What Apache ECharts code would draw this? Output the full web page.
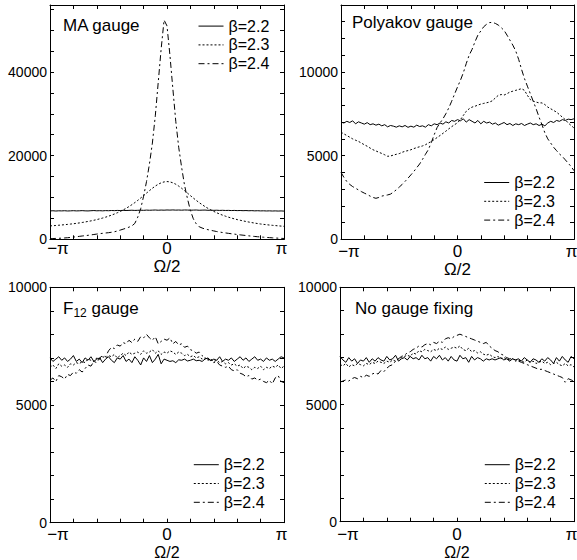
<!DOCTYPE html>
<html><head><meta charset="utf-8">
<script src="https://cdn.jsdelivr.net/npm/echarts@6/dist/echarts.min.js"></script>
<style>html,body{margin:0;padding:0;background:#fff}#c{width:577px;height:560px}</style>
</head><body><div id="c"></div>
<script>
// x grid: Ω/2 in units of π, from -π to π (81 bins)
const xs = Array.from({length: 81}, (_, i) => -1 + i / 40);
const betaNames = ['β=2.2', 'β=2.3', 'β=2.4'];
const xTickLabels = ['−π', '0', 'π'];
const yLabelSteps = [20000, 5000, 5000, 5000];
const yMax = [56000, 14000, 10000, 10000];
const yInterval = [5000, 1000, 1000, 1000];

// MA gauge
const ma22 = [6780,6820,6760,6810,6790,6830,6770,6800,6840,6790,6810,6850,6800,6780,6830,6870,6810,6840,6800,6860,6830,6880,6850,6900,6870,6920,6880,6910,6950,6900,6930,6960,6920,6980,6940,6970,7000,6950,6990,6960,7010,6980,7020,6970,7000,6960,7010,6990,6950,6980,7000,6940,6970,6990,6930,6960,6920,6950,6900,6930,6890,6910,6870,6900,6860,6880,6840,6870,6820,6850,6800,6830,6790,6810,6770,6800,6760,6790,6750,6780,6740];
const ma23 = [3200,3250,3300,3360,3420,3490,3560,3640,3720,3810,3910,4020,4140,4270,4400,4550,4710,4890,5080,5290,5520,5770,6040,6340,6660,7010,7400,7820,8280,8770,9300,9860,10440,11040,11630,12200,12720,13160,13500,13720,13800,13720,13500,13160,12720,12200,11630,11040,10440,9860,9300,8770,8280,7820,7400,7010,6660,6340,6040,5770,5520,5290,5080,4890,4710,4550,4400,4260,4120,3990,3870,3760,3660,3570,3490,3410,3340,3280,3220,3160,3100];
const ma24 = [150,180,210,240,280,320,380,450,530,610,700,790,870,950,1050,1150,1250,1350,1430,1510,1580,1680,1800,1980,2200,2420,2650,2900,3200,3800,5300,7300,10300,13800,18000,23000,29500,37500,45500,52400,51000,44000,36000,28200,22000,17200,12900,9700,6900,4900,3700,3000,2700,2450,2300,2150,2000,1850,1730,1620,1520,1420,1330,1240,1150,1060,980,900,820,750,680,610,550,500,450,400,350,310,270,230,200];

// Polyakov gauge
const po22 = [7000,6950,7050,6980,7080,6900,7020,6950,6880,6970,6850,6900,6820,6880,6780,6850,6720,6800,6760,6700,6780,6720,6800,6690,6760,6700,6820,6740,6780,6700,6850,6780,6900,6850,6950,6880,7020,6950,7100,7050,7150,7080,7200,7000,7150,7050,6950,7100,6900,7050,6950,7000,6880,6950,6820,6900,6980,6850,6920,6800,6900,6850,6920,6800,6880,6950,6850,6900,6800,6880,6780,6950,7050,6980,7100,7050,7150,7100,7180,7150,7200];
const po23 = [6400,6300,6200,6100,6000,5920,5850,5750,5650,5560,5450,5350,5280,5200,5130,5050,4960,4980,5030,5080,5120,5200,5260,5300,5350,5420,5480,5530,5580,5650,5750,5850,5960,6080,6200,6330,6460,6600,6730,6850,6960,7150,7400,7650,7800,7900,7950,8020,8080,8120,8160,8200,8280,8450,8600,8650,8620,8700,8800,8850,8900,8950,9000,8900,8600,8350,8250,8200,8150,8150,8050,7900,7800,7700,7600,7450,7300,7150,6950,6800,6650];
const po24 = [4000,3700,3450,3280,3150,3050,2950,2850,2760,2680,2580,2500,2450,2500,2580,2620,2650,2700,2820,2960,3120,3280,3460,3650,3850,4050,4280,4500,4780,5080,5360,5780,6250,6680,6950,7200,7500,7850,8250,8680,9100,9500,9950,10500,11000,11350,11800,12200,12450,12700,12850,12950,12960,12900,12800,12650,12480,12200,11900,11600,11250,10750,10150,9600,9150,8700,8250,7800,7300,6850,6360,6000,5750,5500,5300,5100,4950,4750,4550,4350,4100];

// F12 gauge
const f22 = [7000,6850,6950,7050,6900,7000,6850,6950,7100,6850,6950,6800,7000,6900,7050,6850,6950,7000,6800,6950,7050,6900,6800,7000,6950,7100,6850,6950,6800,7050,6900,6700,7000,6850,7100,6800,6950,7150,6750,6950,6900,6850,6880,6800,6920,6900,6950,6870,6900,6950,6880,6900,6850,6950,7000,6880,6950,6900,7050,6850,6950,6900,7000,6850,6950,7050,6900,7000,6850,6950,7050,6900,6950,6850,7000,6900,6950,6850,6950,7050,7000];
const f23 = [6600,6700,6550,6750,6650,6700,6600,6750,6700,6800,6750,6850,6800,6950,6900,6850,7000,6950,7050,7000,7100,7050,7150,7000,7100,7200,7100,7250,7150,7200,7250,7150,7300,7200,7250,7350,7200,7300,7150,7250,7200,7300,7250,7150,7250,7200,7100,7150,7050,7100,7000,7050,6950,7000,6900,6950,6850,6900,6800,6850,6750,6800,6700,6750,6650,6700,6550,6650,6600,6500,6600,6550,6650,6500,6600,6550,6650,6600,6700,6550,6650];
const f24 = [6050,6150,6000,6250,6200,6100,6300,6250,6400,6350,6500,6400,6550,6700,6650,6850,6800,7000,7100,7050,7300,7450,7400,7550,7500,7650,7600,7750,7650,7800,7700,7900,7850,8000,7850,7750,7900,7600,7700,7800,7750,7850,7600,7700,7550,7600,7450,7500,7350,7300,7200,7250,7100,7000,6950,6900,6800,6850,6700,6650,6600,6650,6500,6450,6500,6350,6300,6200,6250,6100,6150,6050,6100,6000,5950,6050,5900,6150,6250,6000,5950];

// No gauge fixing
const n22 = [7050,6900,6800,7000,6850,6950,6750,6900,6850,7000,6800,6950,6850,7000,6900,6850,7050,6900,6950,7100,6850,6950,7000,6900,7050,6950,7000,6900,7100,6950,7000,6850,7050,6950,7100,6900,7000,6850,7050,6900,6850,7100,6950,7000,6800,7050,6900,7000,6950,6850,6950,6900,6950,6900,6950,7000,6900,6950,6850,6950,6900,6950,6850,7000,6900,6800,6950,6900,6800,6950,6850,7000,6900,6750,7000,6850,7050,6900,6800,7050,6950];
const n23 = [6700,6650,6750,6600,6700,6650,6750,6700,6650,6750,6700,6800,6750,6850,6800,6750,6850,6800,6900,6850,6950,7000,7050,7100,7050,7200,7150,7300,7250,7350,7300,7250,7350,7300,7400,7350,7450,7350,7400,7450,7400,7500,7350,7300,7400,7250,7300,7200,7250,7150,7100,7150,7050,7000,7050,6950,7000,6950,6900,6950,6850,6900,6850,6800,6900,6800,6850,6750,6800,6850,6750,6800,6700,6750,6800,6700,6650,6750,6650,6700,6600];
const n24 = [5950,6000,6050,6000,6100,6150,6100,6200,6150,6250,6200,6300,6350,6300,6450,6400,6550,6650,6700,6850,6950,7050,7100,7200,7250,7350,7400,7500,7450,7550,7600,7550,7650,7600,7700,7650,7800,7850,7800,7900,7950,8000,7950,7900,7850,7800,7750,7700,7650,7600,7650,7500,7400,7300,7250,7150,7100,7000,6950,6950,6900,6850,6800,6750,6700,6650,6600,6550,6500,6500,6450,6400,6350,6300,6250,6200,6150,5950,6100,6050,6000];

const panelTitles = ['MA gauge', 'Polyakov gauge', '{a|F}{s|12}{a| gauge}', 'No gauge fixing'];
const panelSeries = [[ma22, ma23, ma24], [po22, po23, po24], [f22, f23, f24], [n22, n23, n24]];

const FONT = 'Liberation Sans, Arial, Helvetica, sans-serif';
const grids = [
  {left: 50, top: 5, width: 234, height: 234.3},
  {left: 341, top: 5, width: 233, height: 234.3},
  {left: 50, top: 287.3, width: 234, height: 235.4},
  {left: 340, top: 287.3, width: 234, height: 234.4}
];
const titlePos = [[63, 17.3], [352, 13.9], [63, 300], [355, 300]];
const legendPos = [[198, 16.7], [483.7, 173.1], [193.3, 455.3], [484.3, 455.3]];
const labelMargin = [1, 4, 3.5, 4.5];
const nameGaps = [13, 20.5, 12.5, 13];
const nameSizes = [17, 17, 16, 16];
const dashes = ['solid', [2, 2], [6, 3, 2, 3]];

const fmtX = v => Math.abs(v + 1) < 1e-6 ? '{m|' + xTickLabels[0] + '}' : Math.abs(v) < 1e-6 ? xTickLabels[1] : Math.abs(v - 1) < 1e-6 ? '{p|' + xTickLabels[2] + '}' : '';

const xAxis = [], yAxis = [], series = [], title = [], legend = [];
grids.forEach((g, k) => {
  const tick = {show: true, inside: true, length: 4, lineStyle: {color: '#000', width: 1}};
  const line = {show: true, onZero: false, lineStyle: {color: '#000', width: 1}};
  xAxis.push({type: 'value', gridIndex: k, position: 'bottom', min: -1, max: 1, interval: 0.2,
    axisLine: line, axisTick: tick, splitLine: {show: false},
    axisLabel: {formatter: fmtX, fontSize: 17, color: '#000', fontFamily: FONT, margin: labelMargin[k], showMinLabel: true, showMaxLabel: true,
      rich: {m: {fontSize: 17, color: '#000', fontFamily: FONT, padding: [0, 0, 0, 16]},
             p: {fontSize: 17, color: '#000', fontFamily: FONT, padding: [0, 5, 0, 0]}}},
    name: 'Ω/2', nameLocation: 'middle', nameGap: nameGaps[k],
    nameTextStyle: {fontSize: nameSizes[k], color: '#000', fontFamily: FONT, lineHeight: nameSizes[k]}});
  xAxis.push({type: 'value', gridIndex: k, position: 'top', min: -1, max: 1, interval: 0.2,
    axisLine: line, axisTick: tick, splitLine: {show: false}, axisLabel: {show: false}});
  yAxis.push({type: 'value', gridIndex: k, position: 'left', min: 0, max: yMax[k], interval: yInterval[k],
    axisLine: line, axisTick: tick, splitLine: {show: false},
    axisLabel: {formatter: v => (v % yLabelSteps[k] === 0 ? String(v) : ''), fontSize: 14, color: '#000', fontFamily: FONT, margin: 3}});
  yAxis.push({type: 'value', gridIndex: k, position: 'right', min: 0, max: yMax[k], interval: yInterval[k],
    axisLine: line, axisTick: tick, splitLine: {show: false}, axisLabel: {show: false}});
  panelSeries[k].forEach((vals, j) => {
    series.push({type: 'line', name: betaNames[j], xAxisIndex: 2 * k, yAxisIndex: 2 * k,
      data: xs.map((x, i) => [x, vals[i]]), symbol: 'none', showSymbol: false, smooth: false,
      lineStyle: {color: '#000', width: 1, type: dashes[j]}, itemStyle: {color: '#000'}, z: 3});
  });
  title.push({text: panelTitles[k], left: titlePos[k][0], top: titlePos[k][1], padding: 0,
    textStyle: {fontSize: 17, fontWeight: 'normal', color: '#000', fontFamily: FONT,
      rich: {a: {fontSize: 17, color: '#000', fontFamily: FONT, verticalAlign: 'top', lineHeight: 17},
             s: {fontSize: 12, color: '#000', fontFamily: FONT, verticalAlign: 'top', lineHeight: 12, padding: [7, 0, 0, 0]}}}});
  legend.push({data: betaNames, left: legendPos[k][0], top: legendPos[k][1], orient: 'vertical', padding: 0,
    itemGap: 0, itemWidth: 25, itemHeight: 10, selectedMode: false,
    itemStyle: {opacity: 0, color: 'transparent', borderWidth: 0},
    lineStyle: {color: '#000', width: 1},
    textStyle: {fontSize: 16, color: '#000', fontFamily: FONT, lineHeight: 18.8}});
});

const chart = echarts.init(document.getElementById('c'), null, {renderer: 'svg'});
chart.setOption({
  animation: false,
  backgroundColor: '#fff',
  grid: grids.map(g => Object.assign({outerBoundsMode: 'none', containLabel: false, show: false}, g)),
  title, legend, xAxis, yAxis, series
});
</script></body></html>
